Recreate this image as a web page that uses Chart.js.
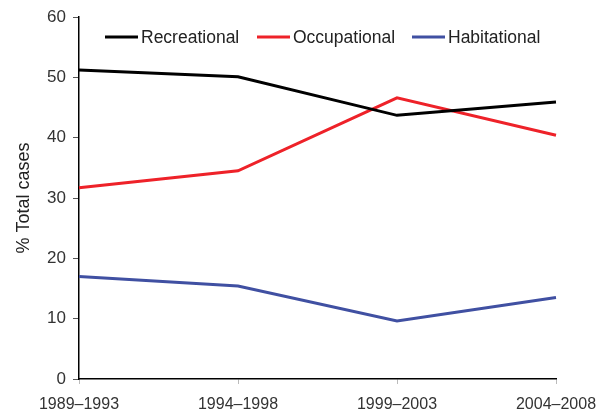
<!DOCTYPE html>
<html>
<head>
<meta charset="utf-8">
<script src="https://cdn.jsdelivr.net/npm/chart.js@4/dist/chart.umd.min.js"></script>
<style>
  html, body { margin: 0; padding: 0; background: #fff; }
  #wrap { width: 604px; height: 409px; }
</style>
</head>
<body>
<div id="wrap"><canvas id="chart"></canvas></div>
<script>
const periods = ['1989\u20131993', '1994\u20131998', '1999\u20132003', '2004\u20132008'];
const recreational = [51.2, 50.1, 43.7, 45.9];
const occupational = [31.7, 34.5, 46.6, 40.4];
const habitational = [17.0, 15.4, 9.6, 13.5];
const yTicks = [0, 10, 20, 30, 40, 50, 60];

const FONT = '"Liberation Sans", Arial, sans-serif';

// legend drawn inside the plot, like the original
const insideLegend = {
    id: 'insideLegend',
    afterDraw(chart) {
        const ctx = chart.ctx;
        const starts = [105, 257, 412];
        ctx.save();
        ctx.font = '17.5px ' + FONT;
        ctx.textBaseline = 'middle';
        chart.data.datasets.forEach((ds, i) => {
            const x = starts[i];
            const y = 37;
            ctx.strokeStyle = ds.borderColor;
            ctx.lineWidth = 3;
            ctx.beginPath();
            ctx.moveTo(x, y);
            ctx.lineTo(x + 33, y);
            ctx.stroke();
            ctx.fillStyle = '#222';
            ctx.fillText(ds.label, x + 36, y + 1);
        });
        ctx.restore();
    }
};

const ctx = document.getElementById('chart').getContext('2d');
new Chart(ctx, {
    type: 'line',
    data: {
        labels: periods,
        datasets: [
            { label: 'Recreational', data: recreational, borderColor: '#000000' },
            { label: 'Occupational', data: occupational, borderColor: '#ee2229' },
            { label: 'Habitational', data: habitational, borderColor: '#4050a2' }
        ]
    },
    options: {
        responsive: true,
        maintainAspectRatio: false,
        animation: false,
        layout: { padding: { top: 17, right: 48, left: 0, bottom: 0 } },
        elements: {
            line: { borderWidth: 3, tension: 0 },
            point: { radius: 0, hoverRadius: 0 }
        },
        plugins: {
            legend: { display: false },
            tooltip: { enabled: false }
        },
        scales: {
            x: {
                offset: false,
                grid: { drawOnChartArea: false, drawTicks: true, tickLength: 5, color: '#bbbbbb' },
                border: { display: true, color: '#000', width: 1.5 },
                ticks: {
                    autoSkip: false, maxRotation: 0, minRotation: 0, padding: 11,
                    color: '#333', font: { family: FONT, size: 16 }
                },
                afterFit(scale) {
                    scale.height = 30;
                    scale.paddingLeft = 0;
                    scale.paddingRight = 0;
                }
            },
            y: {
                min: 0,
                max: 60,
                afterBuildTicks(scale) { scale.ticks = yTicks.map(v => ({ value: v })); },
                grid: { drawOnChartArea: false, drawTicks: true, tickLength: 6, color: '#555' },
                border: { display: true, color: '#000', width: 1.5 },
                ticks: {
                    padding: 7,
                    color: '#333', font: { family: FONT, size: 17 }
                },
                title: {
                    display: true,
                    text: '% Total cases',
                    color: '#222',
                    padding: { top: 13, bottom: 0 },
                    font: { family: FONT, size: 18 }
                },
                afterFit(scale) {
                    scale.width = 79;
                    scale.paddingTop = 0;
                    scale.paddingBottom = 0;
                }
            }
        }
    },
    plugins: [insideLegend]
});
</script>
</body>
</html>
